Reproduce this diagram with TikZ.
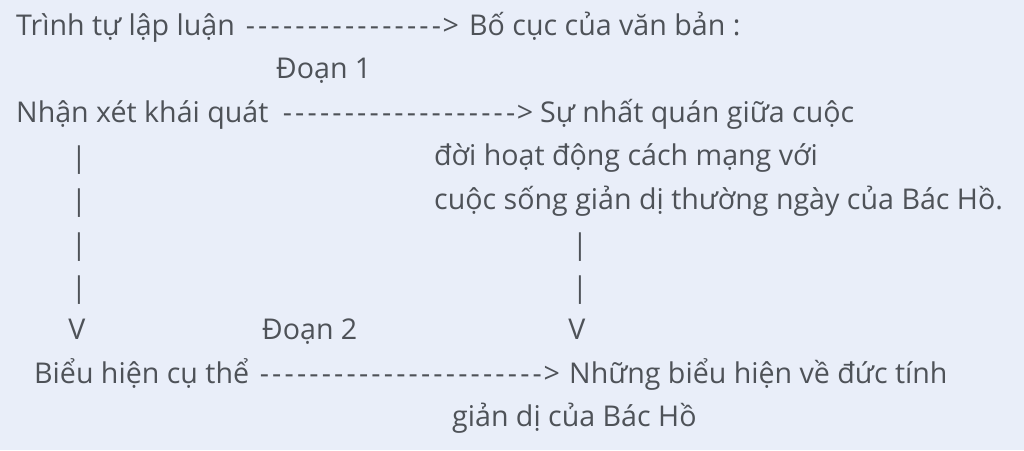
\documentclass[tikz,border=0pt]{standalone}
\usepackage{fontspec}
\newfontfamily\uifont{Open Sans}
\usepackage{xcolor}
\definecolor{bgblue}{RGB}{233,238,249}
\definecolor{inkgray}{RGB}{78,82,88}
\newcommand\dashline[1]{\foreach \i in {1,...,#1}{\makebox[12.4pt]{-}}>}
\tikzset{
  txt/.style={inner sep=0pt, anchor=base west, text=inkgray, font=\uifont\fontsize{28.6}{34}\selectfont},
  mark glyph/.style={txt, anchor=base}
}

\begin{document}
\begin{tikzpicture}[x=1pt, y=-1pt]
        \fill[bgblue] (0,0) rectangle (1024,450);
        \useasboundingbox (0,0) rectangle (1024,450);

        \node[txt] (trinhtu) at (16,35) {Trình tự lập luận};
        \node[txt] (arrA) at (244,35) {\dashline{16}};
        \node[txt] (bocuc) at (469,35) {Bố cục của văn bản :};

        \node[txt] (doan1) at (276,78.5) {Đoạn 1};

        \node[txt] (nhanxet) at (16,122) {Nhận xét khái quát};
        \node[txt] (arrB) at (281,122) {\dashline{19}};
        \node[txt] (nhatquan) at (540,122) {Sự nhất quán giữa cuộc};
        \node[txt] (nhatquanb) at (434,165.5) {đời hoạt động cách mạng với};
        \node[txt] (nhatquanc) at (434,209) {cuộc sống giản dị thường ngày của Bác Hồ.};

        \foreach \y [count=\i] in {167,210.5,254,297.5}
            \node[mark glyph] (barL\i) at (79,\y) {|};
        \foreach \y [count=\i] in {254,297.5}
            \node[mark glyph] (barR\i) at (580,\y) {|};
        \node[mark glyph] (downL) at (77,339.5) {V};
        \node[mark glyph] (downR) at (577,339.5) {V};

        \node[txt] (doan2) at (262,339.5) {Đoạn 2};

        \node[txt] (bieuhien) at (34,383) {Biểu hiện cụ thể};
        \node[txt] (arrC) at (258,383) {\dashline{23}};
        \node[txt] (ductinh) at (569,383) {Những biểu hiện về đức tính};
        \node[txt] (ductinhb) at (452,426.5) {giản dị của Bác Hồ};
\end{tikzpicture}
\end{document}
